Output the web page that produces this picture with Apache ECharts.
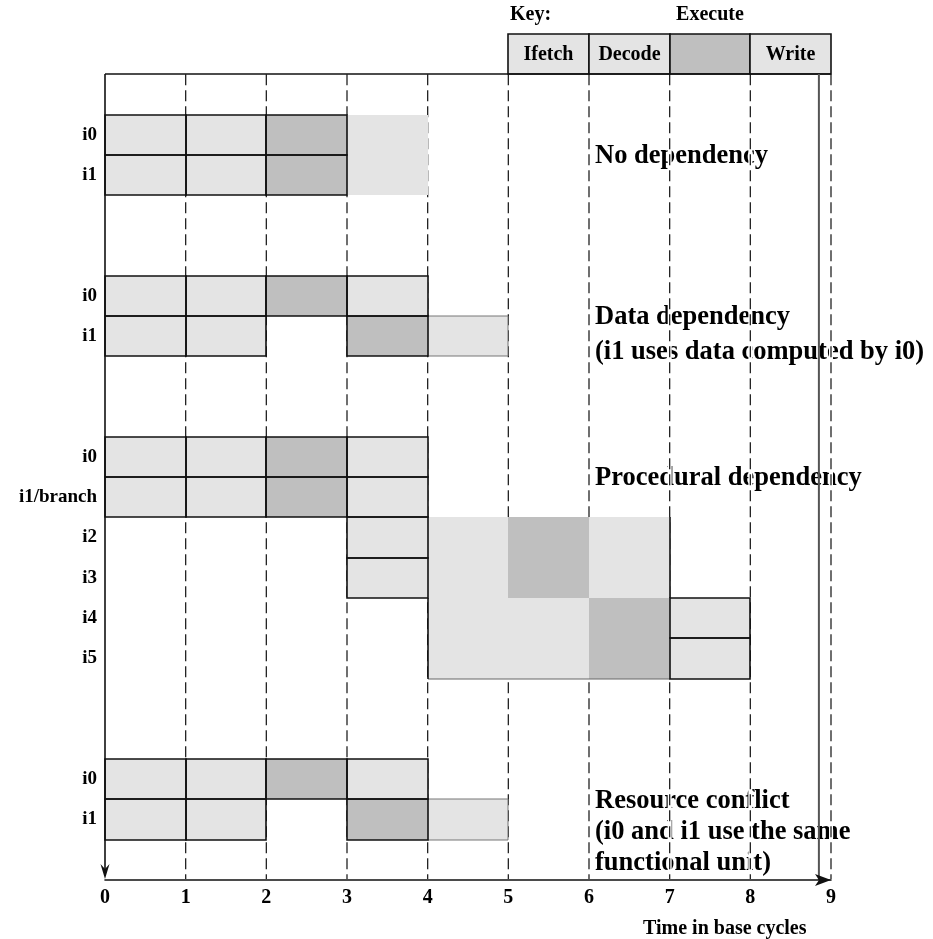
<!DOCTYPE html>
<html><head><meta charset="utf-8">
<script src="https://cdn.jsdelivr.net/npm/echarts@6/dist/echarts.min.js"></script>
<style>html,body{margin:0;padding:0;background:#fff}#c{width:933px;height:939px}</style>
</head><body><div id="c"></div>
<script>
// ---- data ----
const cycleTicks = ['0','1','2','3','4','5','6','7','8','9'];
const rowLabels = ['', '', 'i0', 'i1', '', '', 'i0', 'i1', '', '', 'i0', 'i1/branch', 'i2', 'i3', 'i4', 'i5', '', '', 'i0', 'i1', ''];
const stageNames = ['Ifetch', 'Decode', 'Execute', 'Write'];
// [start cycle, row index, stage index, edge flags]
const noDependency = [
  [0,2,0,'B'],[1,2,1,'B'],[2,2,2,'B'],[3,2,3,''],
  [0,3,0,'B'],[1,3,1,'B'],[2,3,2,'B'],[3,3,3,'']
];
const dataDependency = [
  [0,6,0,'B'],[1,6,1,'B'],[2,6,2,'B'],[3,6,3,'B'],
  [0,7,0,'B'],[1,7,1,'B'],[3,7,2,'B'],[4,7,3,'T']
];
const proceduralDependency = [
  [0,10,0,'B'],[1,10,1,'B'],[2,10,2,'B'],[3,10,3,'B'],
  [0,11,0,'B'],[1,11,1,'B'],[2,11,2,'B'],[3,11,3,'B'],
  [3,12,0,'B'],[4,12,1,''],[5,12,2,''],[6,12,3,'r'],
  [3,13,0,'B'],[4,13,1,''],[5,13,2,''],[6,13,3,'r'],
  [4,14,0,'l'],[5,14,1,''],[6,14,2,''],[7,14,3,'B'],
  [4,15,0,'lu'],[5,15,1,'u'],[6,15,2,'u'],[7,15,3,'B']
];
const resourceConflict = [
  [0,18,0,'B'],[1,18,1,'B'],[2,18,2,'B'],[3,18,3,'B'],
  [0,19,0,'B'],[1,19,1,'B'],[3,19,2,'B'],[4,19,3,'T']
];
const keyCells = [[5,0,0],[6,0,1],[7,0,2],[8,0,3]];
const gridCycles = [1,2,3,4,5,6,7,8,9];
const annotations = [
  ['No dependency'],
  ['Data dependency', '(i1 uses data computed by i0)'],
  ['Procedural dependency'],
  ['Resource conflict', '(i0 and i1 use the same', 'functional unit)']
];
const axisTitle = 'Time in base cycles';

// ---- styles ----
const FONT = '"Liberation Serif", "Times New Roman", serif';
const LIGHT = '#e4e4e4', DARK = '#bfbfbf';
const LAST_ROW = rowLabels.length - 1;

function cellGeom(api, c0, row) {
  const p = api.coord([c0, row]);
  const p2 = api.coord([c0 + 1, row]);
  const h = api.size([0, 1])[1];
  const x = Math.round(p[0]), x2 = Math.round(p2[0]);
  const y = Math.round(p[1] - h / 2), y2 = Math.round(p[1] + h / 2);
  return {x, y, w: x2 - x, h: y2 - y};
}
const ln = (x1, y1, x2, y2, color, lw, z2) => ({type:'line', shape:{x1, y1, x2, y2}, style:{stroke: color, lineWidth: lw}, z2});

function cellSeries(name, cells) {
  return {
    type: 'custom', name, z: 3, coordinateSystem: 'cartesian2d',
    encode: {x: 0, y: 1},
    data: cells.map(c => [c[0], c[1]]),
    renderItem: (params, api) => {
      const c = cells[params.dataIndex];
      const g = cellGeom(api, c[0], c[1]);
      const fill = c[2] === 2 ? DARK : LIGHT;
      const f = c[3];
      const ch = [{type:'rect', shape:{x:g.x, y:g.y, width:g.w, height:g.h}, style:{fill}, z2: 0}];
      if (f.includes('B')) ch.push({type:'rect', shape:{x:g.x, y:g.y, width:g.w, height:g.h}, style:{fill:'none', stroke:'#111', lineWidth:1.6}, z2: 5});
      if (f.includes('T')) {
        ch.push(ln(g.x, g.y, g.x + g.w, g.y, '#777', 1, 2));
        ch.push(ln(g.x, g.y + g.h, g.x + g.w, g.y + g.h, '#777', 1, 2));
        ch.push(ln(g.x + g.w, g.y, g.x + g.w, g.y + g.h, '#777', 1, 2));
      }
      if (f.includes('u')) ch.push(ln(g.x, g.y + g.h, g.x + g.w, g.y + g.h, '#666', 1, 2));
      if (f.includes('r')) ch.push(ln(g.x + g.w, g.y, g.x + g.w, g.y + g.h, '#111', 1.6, 3));
      if (f.includes('l')) ch.push(ln(g.x, g.y, g.x, g.y + g.h, '#111', 1.6, 3));
      return {type:'group', children: ch};
    }
  };
}

const chart = echarts.init(document.getElementById('c'), null, {renderer: 'canvas'});

const option = {
  animation: false,
  backgroundColor: '#fff',
  grid: {left: 105, right: 102, top: 34, bottom: 59, containLabel: false},
  xAxis: {
    type: 'value', min: 0, max: 9, interval: 1, z: 10,
    axisLine: {show: true, lineStyle: {color: '#111', width: 1.6}, symbol: ['none', 'arrow'], symbolSize: [9, 16], symbolOffset: [0, 0]},
    axisTick: {show: false},
    splitLine: {show: false},
    axisLabel: {margin: 8, color: '#000', fontFamily: FONT, fontWeight: 'bold', fontSize: 20,
      formatter: v => cycleTicks[Math.round(v)] ?? ''}
  },
  yAxis: {
    type: 'category', inverse: true, boundaryGap: true,
    data: rowLabels.map((_, i) => 'r' + i),
    axisLine: {show: false}, axisTick: {show: false}, splitLine: {show: false},
    axisLabel: {interval: 0, margin: 8, color: '#000', fontFamily: FONT, fontWeight: 'bold', fontSize: 19,
      formatter: (v, i) => rowLabels[i]}
  },
  graphic: {elements: []},
  series: [
    // vertical dashed cycle lines (with white halo)
    {
      type: 'custom', name: 'cycleLines', z: 2, encode: {x: 0, y: 1},
      data: gridCycles.map(c => [c, 0]),
      renderItem: (params, api) => {
        const c = gridCycles[params.dataIndex];
        const h = api.size([0, 1])[1];
        const p = api.coord([c, 0]);
        const yTop = p[1] + h / 2;
        const yBot = api.coord([c, LAST_ROW])[1] + h / 2 - 1;
        return {type: 'group', children: [
          {type:'line', shape:{x1:p[0], y1:yTop, x2:p[0], y2:yBot}, style:{stroke:'#fff', lineWidth:4}},
          {type:'line', shape:{x1:p[0], y1:yTop, x2:p[0], y2:yBot}, style:{stroke:'#222', lineWidth:1.3, lineDash:[11, 5]}}
        ]};
      }
    },
    cellSeries('No dependency', noDependency),
    cellSeries('Data dependency', dataDependency),
    cellSeries('Procedural dependency', proceduralDependency),
    cellSeries('Resource conflict', resourceConflict),
    // key
    {
      type: 'custom', name: 'key', z: 3, encode: {x: 0, y: 1},
      data: keyCells.map(c => [c[0], c[1]]),
      renderItem: (params, api) => {
        const c = keyCells[params.dataIndex];
        const g = cellGeom(api, c[0], c[1]);
        const ch = [
          {type:'rect', shape:{x:g.x, y:g.y, width:g.w, height:g.h}, style:{fill: c[2] === 2 ? DARK : LIGHT, stroke:'#111', lineWidth:1.6}}
        ];
        const txt = (t, x, y, align) => ({type:'text', x, y, style:{text:t, font:'bold 20px ' + FONT, fill:'#000', align, verticalAlign:'middle'}, z2: 6});
        if (c[2] === 2) ch.push(txt(stageNames[c[2]], g.x + g.w / 2, g.y - 19, 'center'));
        else ch.push(txt(stageNames[c[2]], g.x + g.w / 2, g.y + g.h / 2 + 1, 'center'));
        if (params.dataIndex === 0) ch.push(txt('Key:', g.x + 2, g.y - 19, 'left'));
        return {type:'group', children: ch};
      }
    },
    // frame
    {
      type: 'custom', name: 'frame', z: 4, encode: {x: 0, y: 1},
      data: [[0, 0]],
      renderItem: (params, api) => {
        const h = api.size([0, 1])[1];
        const p0 = api.coord([0, 0]);
        const yTop = Math.round(p0[1] + h / 2);
        const yBot = api.coord([0, LAST_ROW])[1] + h / 2;
        const xL = p0[0];
        const x9 = api.coord([9, 0])[0];
        const xS = api.coord([8.85, 0])[0];
        return {type:'group', children: [
          ln(xL, yTop, x9, yTop, '#111', 1.6, 1),
          ln(xL, yTop, xL, yBot - 4, '#111', 1.6, 1),
          {type:'polygon', shape:{points:[[xL, yBot - 1], [xL - 4.5, yBot - 16], [xL, yBot - 11], [xL + 4.5, yBot - 16]]}, style:{fill:'#111'}},
          ln(xS, yTop, xS, yBot, '#555', 2, 1)
        ]};
      }
    }
  ]
};

// annotation text (pixel layout for free text)
const annAnchors = [[155], [316, 351], [477], [800, 831, 862]];
annotations.forEach((lines, i) => {
  lines.forEach((t, j) => {
    option.graphic.elements.push({type:'text', z: 0, left: 595, top: annAnchors[i][j] - 12,
      style:{text: t, font: 'bold 26.5px ' + FONT, fill: '#000'}});
  });
});
option.graphic.elements.push({type:'text', z: 0, left: 643, top: 919,
  style:{text: axisTitle, font: 'bold 20px ' + FONT, fill: '#000'}});

chart.setOption(option);
</script>
</body></html>
